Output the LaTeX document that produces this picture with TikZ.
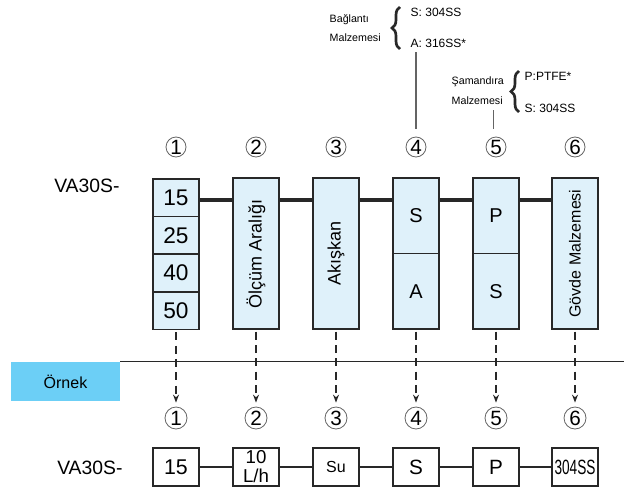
\documentclass[tikz,border=0pt]{standalone}
\usepackage{fontspec}
\setmainfont{Liberation Sans}
\usetikzlibrary{arrows.meta, positioning, decorations.pathreplacing, calc}
\definecolor{boxblue}{RGB}{223, 241, 250}
\definecolor{exampleblue}{RGB}{108, 207, 246}
\definecolor{linegray}{RGB}{40, 40, 40}
\definecolor{leadgray}{RGB}{100, 100, 100}

\begin{document}
\begin{tikzpicture}[x=0.75pt, y=-0.75pt,
    box/.style={draw=linegray, line width=1.3pt, fill=boxblue, minimum width=34.5pt,
      inner sep=0pt, outer sep=0pt},
    cell/.style={box, minimum height=28.3pt, font=\fontsize{17}{17}\selectfont},
    tallbox/.style={box, minimum height=113.25pt},
    halfbox/.style={box, minimum height=56.6pt, font=\fontsize{15}{15}\selectfont},
    ebox/.style={draw=linegray, line width=1.2pt, fill=white, minimum width=34.5pt,
      minimum height=28.5pt, inner sep=0pt, outer sep=0pt},
    numcirc/.style={circle, draw=leadgray, line width=0.6pt, inner sep=0pt,
      minimum size=15pt, font=\fontsize{15.5}{15.5}\selectfont},
    model/.style={anchor=west, inner sep=0pt, font=\fontsize{14.5}{14.5}\selectfont},
    note/.style={anchor=west, font=\fontsize{9}{9}\selectfont},
    smallnote/.style={anchor=west, font=\fontsize{8}{8}\selectfont},
    conn/.style={draw=linegray, line width=2.5pt},
    dasharrow/.style={draw=linegray, line width=0.9pt, dash pattern=on 6pt off 4pt,
      -{Stealth[length=6pt, width=4.5pt]}, shorten >=3pt},
    lead/.style={draw=leadgray, line width=0.9pt},
    brace/.style={decorate, decoration={brace, amplitude=6pt}, line width=2pt, draw=linegray}]
  \useasboundingbox (0,0) rectangle (624,489);

  % model code, top row
  \node[model] (mtop) at (54,186) {VA30S-};

  % 1: size, four cells
  \node[cell] (c15) at (176,197.5) {15};
  \node[cell, below=0pt of c15] (c25) {25};
  \node[cell, below=0pt of c25] (c40) {40};
  \node[cell, below=0pt of c40] (c50) {50};

  % 2, 3, 6: tall boxes with upright text
  \node[tallbox, font=\fontsize{13.5}{13.5}\selectfont] (b2) at (256,253.5) {\rotatebox{90}{Ölçüm Aralığı}};
  \node[tallbox, font=\fontsize{13.5}{13.5}\selectfont] (b3) at (336,253.5) {\rotatebox{90}{Akışkan}};
  \node[tallbox, font=\fontsize{12}{12}\selectfont] (b6) at (575,253.5) {\rotatebox{90}{Gövde Malzemesi}};

  % 4, 5: split boxes
  \node[halfbox] (b4s) at (416,215.75) {S};
  \node[halfbox, below=0pt of b4s] (b4a) {A};
  \node[halfbox] (b5p) at (496,215.75) {P};
  \node[halfbox, below=0pt of b5p] (b5s) {S};

  \coordinate (hline) at (0,200);
  \foreach \a/\b in {c15/b2, b2/b3, b3/b4s, b4s/b5p, b5p/b6}
    \draw[conn] (\a.east |- hline) -- (\b.west |- hline);

  % circled numbers above the boxes
  \foreach \i/\x in {1/176, 2/256, 3/336, 4/416, 5/496, 6/575}
    \node[numcirc] (t\i) at (\x,147) {\i};

  % material notes
  \node[note] (s304) at (406,12) {S: 304SS};
  \node[note] (a316) at (406,43) {A: 316SS*};
  \node[smallnote] (bag) at (325,20) {Bağlantı};
  \node[smallnote] (malz1) at (325,38) {Malzemesi};
  \draw[brace] (400,49) -- (400,7);

  \node[note] (ptfe) at (520,76) {P:PTFE*};
  \node[note] (s304b) at (520,108) {S: 304SS};
  \node[smallnote] (sam) at (447,82) {Şamandıra};
  \node[smallnote] (malz2) at (447,101) {Malzemesi};
  \draw[brace] (519,112) -- (519,71);

  \draw[lead] ([yshift=6pt]t4.north) -- (t4.north |- a316.south);
  \draw[lead] ([yshift=6pt,xshift=-2pt]t5.north) -- ([xshift=-2pt]t5.north |- malz2.south);

  % example band
  \node[fill=exampleblue, minimum width=81.75pt, minimum height=29.25pt, inner sep=0pt,
    font=\fontsize{12}{12}\selectfont] (ornek) at (65.5,381.5) {Örnek};
  \coordinate (rulend) at (624,363);
  \draw[draw=linegray, line width=1pt] (ornek.north east) -- (rulend |- ornek.north east);

  % circled numbers of the example
  \foreach \i/\x in {1/176, 2/256, 3/336, 4/416, 5/496, 6/575}
    \node[numcirc, minimum size=16.5pt] (n\i) at (\x,418) {\i};

  \foreach \a/\b in {c50/n1, b2/n2, b3/n3, b4a/n4, b5s/n5, b6/n6}
    \draw[dasharrow] ([yshift=-2pt]\a.south) -- (\b.north);

  % example code
  \node[model] (mbot) at (57,468) {VA30S-};
  \node[ebox, font=\fontsize{16}{16}\selectfont] (e1) at (176,467) {15};
  \node[ebox, align=center, font=\fontsize{14}{14.25}\selectfont] (e2) at (256,467) {10\\L/h};
  \node[ebox, font=\fontsize{12}{12}\selectfont] (e3) at (336,467) {Su};
  \node[ebox, font=\fontsize{15.5}{15.5}\selectfont] (e4) at (416,467) {S};
  \node[ebox, font=\fontsize{15.5}{15.5}\selectfont] (e5) at (496,467) {P};
  \node[ebox, font=\fontsize{15.5}{15.5}\selectfont] (e6) at (575,467) {\scalebox{0.66}[1]{304SS}};

  \foreach \a/\b in {e1/e2, e2/e3, e3/e4, e4/e5, e5/e6}
    \draw[conn, line width=2.2pt] (\a) -- (\b);
\end{tikzpicture}
\end{document}
